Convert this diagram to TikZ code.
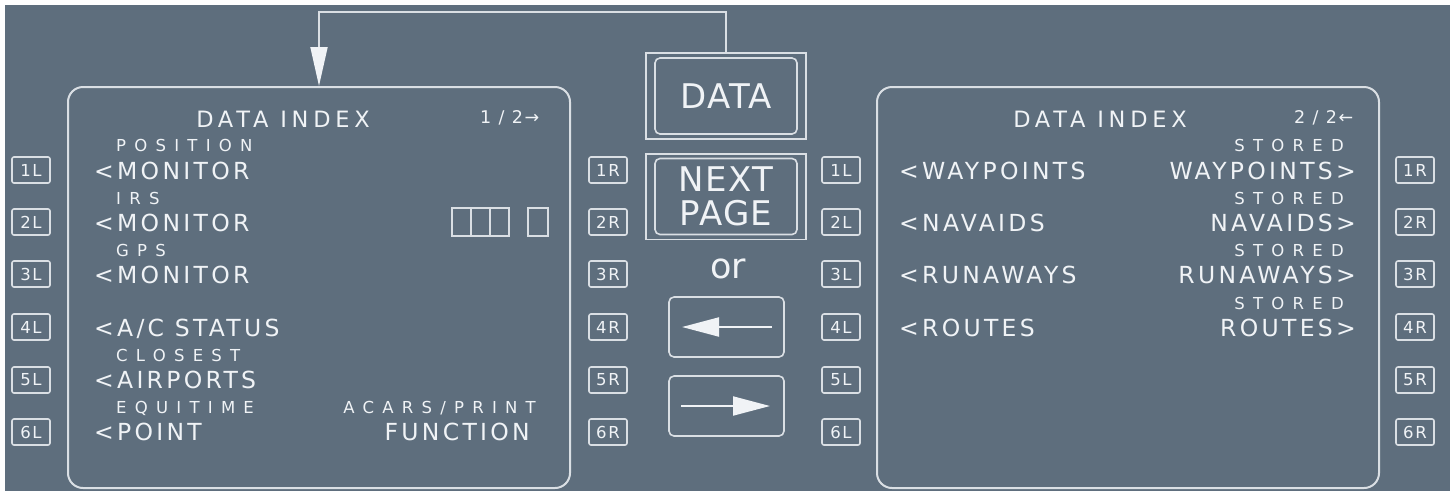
\documentclass[tikz,border=0pt]{standalone}
\usepackage{fontspec}
\usepackage{tikz}
\usetikzlibrary{arrows.meta,calc,fit}
\setmainfont{DejaVu Sans}
\newfontfamily\cdubig[LetterSpace=14]{DejaVu Sans}
\newfontfamily\cdutitle[LetterSpace=21]{DejaVu Sans}
\newfontfamily\cdusmall[LetterSpace=50]{DejaVu Sans}
\newfontfamily\cdupage[LetterSpace=10]{DejaVu Sans}
\newfontfamily\cdukey[LetterSpace=4]{DejaVu Sans}
\definecolor{panelslate}{RGB}{94,110,125}
\definecolor{strokegrey}{RGB}{218,223,228}
\definecolor{glyphwhite}{RGB}{240,243,246}

\begin{document}
\begin{tikzpicture}[x=1pt,y=-1pt,every node/.style={text=glyphwhite,inner sep=0pt},
    screen/.style={draw=strokegrey,line width=2pt,rounded corners=15pt,minimum width=502pt,minimum height=401pt},
    lsk/.style={draw=strokegrey,line width=1.6pt,rounded corners=2pt,minimum width=38pt,minimum height=26pt,font=\cdupage\fontsize{16.5}{18}\selectfont},
    fnkey/.style={draw=strokegrey,line width=1.6pt,rounded corners=5pt,minimum width=142pt,minimum height=76pt,align=center,font=\cdukey\fontsize{34}{37}\selectfont},
    keyframe/.style={draw=strokegrey,line width=1.6pt,inner xsep=8pt,inner ysep=4pt},
    pagekey/.style={draw=strokegrey,line width=1.6pt,rounded corners=5pt,minimum width=115pt,minimum height=60pt},
    keyarrow/.style={draw=glyphwhite,line width=2pt,-{Triangle[length=37pt,width=19pt]}},
    flow/.style={draw=strokegrey,line width=1.8pt,-{Triangle[length=39pt,width=17pt,color=glyphwhite]}},
    cell/.style={draw=strokegrey,line width=1.6pt,minimum width=19pt,minimum height=28pt},
    bigtxt/.style={font=\cdubig\fontsize{23.5}{26}\selectfont,anchor=base west},
    bigtxtr/.style={bigtxt,anchor=base east},
    subtxt/.style={font=\cdusmall\fontsize{16.5}{18}\selectfont,anchor=base west},
    subtxtr/.style={subtxt,anchor=base east},
    ttltxt/.style={font=\cdutitle\fontsize{22.5}{25}\selectfont,anchor=base},
    pgtxt/.style={font=\cdupage\fontsize{17.5}{19}\selectfont,anchor=base west}]
    \fill[white] (0,0) rectangle (1450,491);
    \fill[panelslate] (5,5) rectangle (1450,491);
    \useasboundingbox (0,0) rectangle (1450,491);

    \node[screen] (lscreen) at (319,287.5) {};
    \node[screen] (rscreen) at (1128,287.5) {};
    \foreach \n/\y in {1/170,2/222,3/274,4/327,5/380,6/432}{
      \node[lsk] (kL\n) at (31,\y) {\n L};
      \node[lsk] (kR\n) at (608,\y) {\n R};
      \node[lsk] (jL\n) at (841,\y) {\n L};
      \node[lsk] (jR\n) at (1415,\y) {\n R};
    }

    \node[fnkey] (databtn) at (726,96) {DATA};
    \node[keyframe,fit=(databtn)] (dataframe) {};
    \node[fnkey] (nextbtn) at (726,196.5) {NEXT\\[-3pt]PAGE};
    \node[keyframe,fit=(nextbtn)] (nextframe) {};
    \node[font=\fontsize{35}{38}\selectfont,anchor=base] (orword) at (728,278) {or};
    \node[pagekey] (prevkey) at (726.5,327) {};
    \node[pagekey] (fwdkey) at (726.5,406) {};
    \draw[keyarrow] ($(prevkey.center)+(45.5,0)$) -- ($(prevkey.center)+(-44.5,0)$);
    \draw[keyarrow] ($(fwdkey.center)+(-45.5,0)$) -- ($(fwdkey.center)+(43.5,0)$);
    \coordinate (bend) at (319,12);
    \draw[flow] (dataframe.north) |- (bend) -- (lscreen.north);

    \node[ttltxt] (titleL) at (283,127) {DATA INDEX};
    \node[pgtxt] (pageL) at (480,123) {1 / 2→};
    \node[subtxt] (posn) at (116,151) {POSITION};
    \node[bigtxt] (mon1) at (94,179) {<MONITOR};
    \node[subtxt] (irs) at (116,204) {IRS};
    \node[bigtxt] (mon2) at (94,231) {<MONITOR};
    \node[cell] (c1) at (461.5,222) {};
    \node[cell] (c2) at (480.5,222) {};
    \node[cell] (c3) at (499.5,222) {};
    \node[cell,minimum width=20pt] (c4) at (538,222) {};
    \node[subtxt] (gps) at (116,256) {GPS};
    \node[bigtxt] (mon3) at (94,283) {<MONITOR};
    \node[bigtxt] (acst) at (94,336) {<A/C STATUS};
    \node[subtxt] (clos) at (116,361) {CLOSEST};
    \node[bigtxt] (airp) at (94,388) {<AIRPORTS};
    \node[subtxt] (equi) at (116,413) {EQUITIME};
    \node[subtxtr] (acars) at (536,413) {ACARS/PRINT};
    \node[bigtxtr] (func) at (530,440) {FUNCTION};
    \node[bigtxt] (pnt) at (94,440) {<POINT};

    \node[ttltxt] (titleR) at (1100,127) {DATA INDEX};
    \node[pgtxt] (pageR) at (1294,123) {2 / 2←};
    \node[subtxtr] (sto1) at (1344,151) {STORED};
    \node[bigtxt] (wptL) at (899,179) {<WAYPOINTS};
    \node[bigtxtr] (wptR) at (1356,179) {WAYPOINTS>};
    \node[subtxtr] (sto2) at (1344,204) {STORED};
    \node[bigtxt] (navL) at (899,231) {<NAVAIDS};
    \node[bigtxtr] (navR) at (1356,231) {NAVAIDS>};
    \node[subtxtr] (sto3) at (1344,256) {STORED};
    \node[bigtxt] (rwyL) at (899,283) {<RUNAWAYS};
    \node[bigtxtr] (rwyR) at (1356,283) {RUNAWAYS>};
    \node[subtxtr] (sto4) at (1344,309) {STORED};
    \node[bigtxt] (rteL) at (899,336) {<ROUTES};
    \node[bigtxtr] (rteR) at (1356,336) {ROUTES>};
\end{tikzpicture}
\end{document}
